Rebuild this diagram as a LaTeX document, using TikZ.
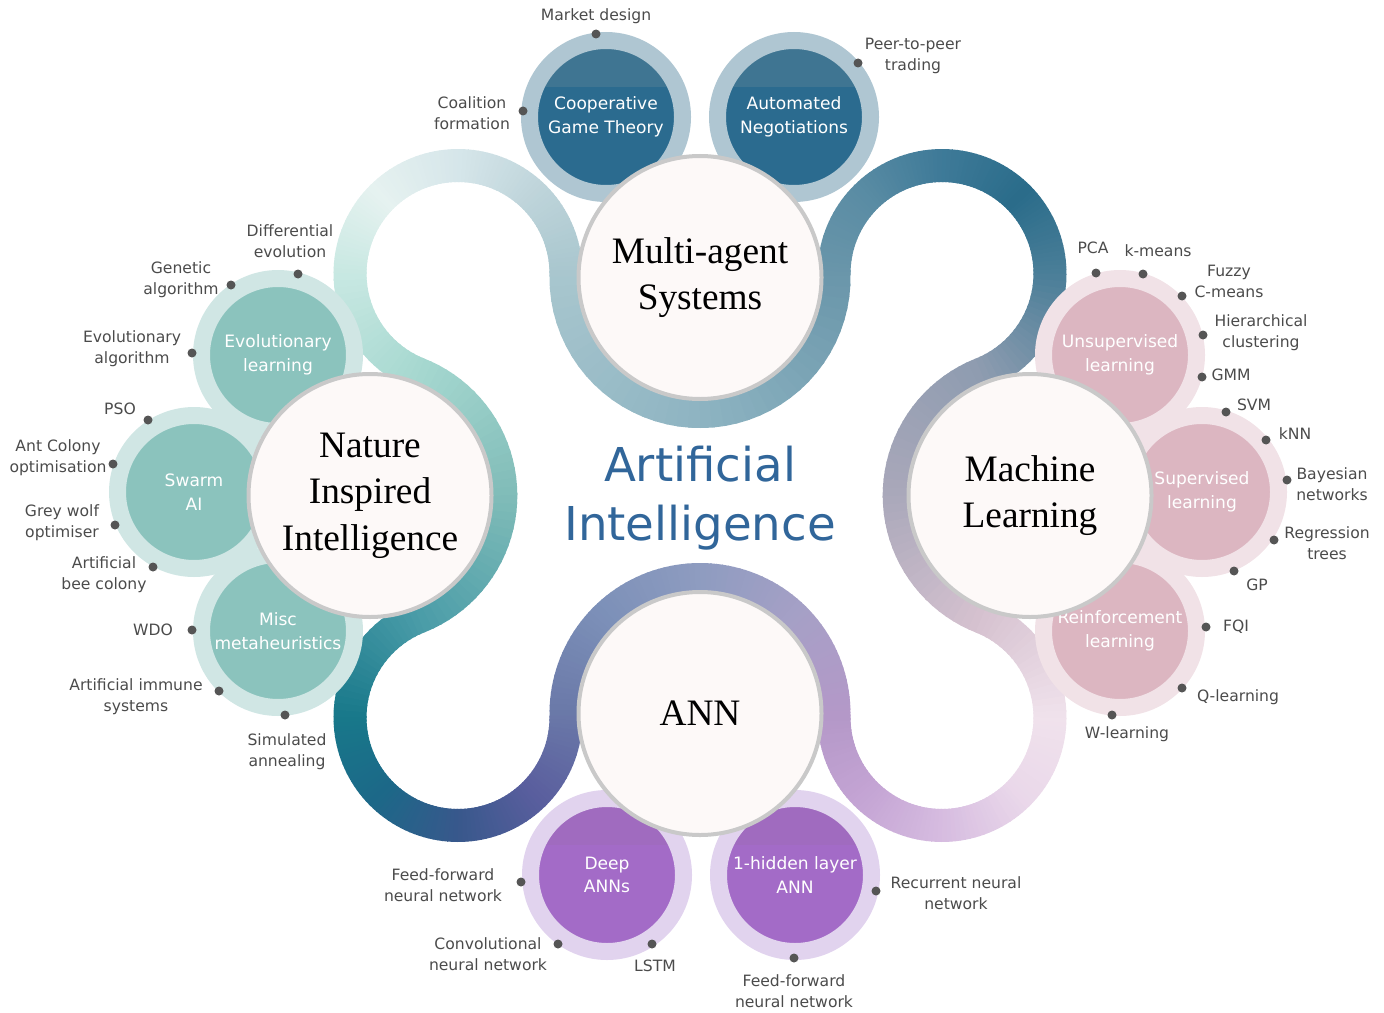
\documentclass[tikz,border=0pt]{standalone}
\usepackage{fontspec}
\setmainfont{Liberation Serif}
\setsansfont{DejaVu Sans}

% ribbon colours, in order along the band
\definecolor{rib0}{HTML}{A8C6CE}
\definecolor{rib1}{HTML}{8EB4C2}
\definecolor{rib2}{HTML}{6A96AA}
\definecolor{rib3}{HTML}{5A8CA4}
\definecolor{rib4}{HTML}{3E7A98}
\definecolor{rib5}{HTML}{2A6C8A}
\definecolor{rib6}{HTML}{4A7E98}
\definecolor{rib7}{HTML}{8E9CB0}
\definecolor{rib8}{HTML}{AAA8BA}
\definecolor{rib9}{HTML}{D6C2D0}
\definecolor{rib10}{HTML}{F0E2EC}
\definecolor{rib11}{HTML}{EAD8EA}
\definecolor{rib12}{HTML}{D6BCE0}
\definecolor{rib13}{HTML}{C4A4D4}
\definecolor{rib14}{HTML}{B498C8}
\definecolor{rib15}{HTML}{A6A0C6}
\definecolor{rib16}{HTML}{8E9CC0}
\definecolor{rib17}{HTML}{7C90B8}
\definecolor{rib18}{HTML}{6A78A8}
\definecolor{rib19}{HTML}{5A5E9E}
\definecolor{rib20}{HTML}{38588C}
\definecolor{rib21}{HTML}{1C6888}
\definecolor{rib22}{HTML}{18788A}
\definecolor{rib23}{HTML}{4A9CA8}
\definecolor{rib24}{HTML}{80BCB8}
\definecolor{rib25}{HTML}{A6D8D0}
\definecolor{rib26}{HTML}{C8E8E2}
\definecolor{rib27}{HTML}{E6F2F0}
\definecolor{rib28}{HTML}{D6E6EA}
\definecolor{rib29}{HTML}{BED4DA}

\definecolor{mainFill}{HTML}{FDF9F8}
\definecolor{mainEdge}{HTML}{C9C9C9}
\definecolor{masHalo}{HTML}{AFC6D2}
\definecolor{masTop}{HTML}{3F7592}
\definecolor{masLow}{HTML}{2B6B8F}
\definecolor{niiHalo}{HTML}{D0E6E4}
\definecolor{niiFill}{HTML}{8BC3BD}
\definecolor{mlHalo}{HTML}{F1E2E7}
\definecolor{mlFill}{HTML}{DCB6C1}
\definecolor{annHalo}{HTML}{E1D3EE}
\definecolor{annTop}{HTML}{A06BBF}
\definecolor{annLow}{HTML}{A36BC7}
\definecolor{dotGrey}{HTML}{555555}
\definecolor{lblGrey}{HTML}{4B4B4B}
\definecolor{aiBlue}{HTML}{31669A}

\tikzset{
  ribbon/.style={line width=24.75pt},
  mainc/.style={circle, draw=mainEdge, line width=3pt, fill=mainFill, minimum size=182.25pt,
    inner sep=0pt, align=center, font=\fontsize{28}{35}\selectfont},
  sat/.style={circle, line width=12.75pt, minimum size=114.75pt, inner sep=0pt, align=center,
    text=white, font=\sffamily\fontsize{12.8}{17.6}\selectfont},
  twotone/.style={path picture={\fill[#1] (path picture bounding box.north west)
    rectangle ([yshift=-34.9pt]path picture bounding box.north east);}},
  satMas/.style={sat, fill=masLow, draw=masHalo, twotone=masTop},
  satNii/.style={sat, fill=niiFill, draw=niiHalo},
  satMl/.style={sat, fill=mlFill, draw=mlHalo},
  satAnn/.style={sat, fill=annLow, draw=annHalo, twotone=annTop},
  dot/.style={circle, fill=dotGrey, minimum size=6.75pt, inner sep=0pt},
  lbl/.style={align=center, text=lblGrey, inner sep=0pt, font=\sffamily\fontsize{11.7}{15.8}\selectfont},
}

\begin{document}
\begin{tikzpicture}[x=0.75pt, y=0.75pt]
\useasboundingbox (0,0) rectangle (1384,-1013);

% the band: arcs round the four main circles and the four loops
\foreach \cx/\cy/\r/\aa/\ab/\ca/\cb in {
  700/-277.5/134/179.05/270/rib0/rib1, 700/-277.5/134/270/360.95/rib1/rib2,
  942/-273.5/108/180.95/135/rib2/rib3, 942/-273.5/108/135/90/rib3/rib4,
  942/-273.5/108/90/45/rib4/rib5, 942/-273.5/108/45/0/rib5/rib6,
  942/-273.5/108/0/-68.4/rib6/rib7,
  1030/-495.5/130.8/111.6/180/rib7/rib8, 1030/-495.5/130.8/180/248.4/rib8/rib9,
  942/-717.5/108/68.4/0/rib9/rib10, 942/-717.5/108/0/-45/rib10/rib11,
  942/-717.5/108/-45/-90/rib11/rib12, 942/-717.5/108/-90/-135/rib12/rib13,
  942/-717.5/108/-135/-180.95/rib13/rib14,
  700/-713.5/134/-0.95/45/rib14/rib15, 700/-713.5/134/45/90/rib15/rib16,
  700/-713.5/134/90/135/rib16/rib17, 700/-713.5/134/135/180.95/rib17/rib18,
  458/-717.5/108/0.95/-45/rib18/rib19, 458/-717.5/108/-45/-90/rib19/rib20,
  458/-717.5/108/-90/-135/rib20/rib21, 458/-717.5/108/-135/-180/rib21/rib22,
  458/-717.5/108/-180/-248.4/rib22/rib23,
  370/-495.5/130.8/-68.4/0/rib23/rib24, 370/-495.5/130.8/0/68.4/rib24/rib25,
  458/-273.5/108/248.4/180/rib25/rib26, 458/-273.5/108/180/135/rib26/rib27,
  458/-273.5/108/135/90/rib27/rib28, 458/-273.5/108/90/45/rib28/rib29,
  458/-273.5/108/45/-0.95/rib29/rib0}
{
  \foreach \i in {0,...,19} {
    \pgfmathsetmacro\sa{\aa+(\ab-\aa)*\i/20}
    \pgfmathsetmacro\sb{\aa+(\ab-\aa)*(\i+1.3)/20}
    \pgfmathsetmacro\p{97.5-5*\i}
    \draw[ribbon, draw=\ca!\p!\cb] (\cx,\cy) ++(\sa:\r) arc[start angle=\sa, end angle=\sb, radius=\r];
  }
}

% satellites
\node (cgt) at (606,-117) [satMas] {Cooperative\\Game Theory};
\node (autoneg) at (794,-117) [satMas] {Automated\\Negotiations};
\node (evo) at (278,-355) [satNii] {Evolutionary\\learning};
\node (swarm) at (194,-492) [satNii] {Swarm\\AI};
\node (misc) at (278,-631) [satNii] {Misc\\metaheuristics};
\node (unsup) at (1120,-355) [satMl] {Unsupervised\\learning};
\node (sup) at (1202,-492) [satMl] {Supervised\\learning};
\node (reinf) at (1120,-631) [satMl] {Reinforcement\\learning};
\node (deep) at (607,-875) [satAnn] {Deep\\ANNs};
\node (onehl) at (795,-875) [satAnn] {1-hidden layer\\ANN};

% main circles
\node (mas) at (700,-277.5) [mainc] {Multi-agent\\Systems};
\node (nii) at (370,-495.5) [mainc] {Nature\\Inspired\\Intelligence};
\node (ml) at (1030,-495.5) [mainc] {Machine\\Learning};
\node (ann) at (700,-713.5) [mainc] {ANN};

% dots and their labels
\foreach \n/\dx/\dy/\tx/\ty/\t in {
  md/596/-34/596/-16/Market design,
  cf/523/-111/472/-113/Coalition\\formation,
  pp/858/-63/913/-56/Peer-to-peer\\trading,
  de/298/-274/290/-241/Differential\\evolution,
  ga/231/-285/181/-280/Genetic\\algorithm,
  ea/192/-353/132/-349/Evolutionary\\algorithm,
  pso/148/-420/120/-409/PSO,
  aco/113/-464/58/-458/Ant Colony\\optimisation,
  gw/115/-525/62/-523/Grey wolf\\optimiser,
  abc/153/-567/104/-575/Artificial\\bee colony,
  wdo/192/-630/153/-630/WDO,
  ais/219/-691/136/-697/Artificial immune\\systems,
  sa/285/-715/287/-752/Simulated\\annealing,
  pca/1096/-273/1093/-248/PCA,
  km/1143/-274/1158/-251/k-means,
  fcm/1182/-296/1229/-281/Fuzzy\\C-means,
  hc/1203/-335/1261/-333/Hierarchical\\clustering,
  gmm/1202/-377/1231/-375/GMM,
  svm/1226/-412/1254/-405/SVM,
  knn/1266/-440/1295/-434/kNN,
  bn/1287/-480/1332/-484/Bayesian\\networks,
  rt/1274/-540/1327/-543/Regression\\trees,
  gp/1234/-571/1257/-585/GP,
  fqi/1206/-627/1236/-627/FQI,
  ql/1182/-688/1238/-697/Q-learning,
  wl/1112/-715/1127/-734/W-learning,
  ffa/521/-882/443/-885/Feed-forward\\neural network,
  cnn/558/-944/488/-954/Convolutional\\neural network,
  lstm/652/-944/655/-966/LSTM,
  rnn/876/-891/956/-893/Recurrent neural\\network,
  ffb/794/-958/794/-991/Feed-forward\\neural network}
{
  \node (d\n) at (\dx,\dy) [dot] {};
  \node (l\n) at (\tx,\ty) [lbl] {\t};
}

\node (ai) at (700,-498) [align=center, text=aiBlue, font=\sffamily\fontsize{35}{44}\selectfont] {Artificial\\Intelligence};
\end{tikzpicture}
\end{document}
